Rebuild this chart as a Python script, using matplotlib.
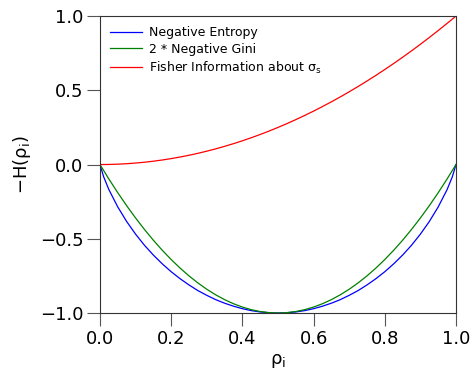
import numpy as np
import matplotlib
matplotlib.use("Agg")
import matplotlib.pyplot as plt

plt.rcParams['mathtext.default'] = 'regular'

# valeurs
p = [0.0, 0.025, 0.05, 0.075, 0.1, 0.125, 0.15, 0.175, 0.2, 0.225, 0.25,
     0.275, 0.3, 0.325, 0.35, 0.375, 0.4, 0.425, 0.45, 0.475, 0.5,
     0.525, 0.55, 0.575, 0.6, 0.625, 0.65, 0.675, 0.7, 0.725, 0.75,
     0.775, 0.8, 0.825, 0.85, 0.875, 0.9, 0.925, 0.95, 0.975, 1.0]

p_entropy = [0.0, 0.01] + p[1:-1] + [0.99, 1.0]
neg_entropy_half = [-0.169, -0.286, -0.384, -0.469, -0.544, -0.610, -0.669,
                    -0.722, -0.769, -0.811, -0.849, -0.881, -0.910, -0.934,
                    -0.954, -0.971, -0.984, -0.993, -0.998]
neg_entropy = [0.0, -0.081] + neg_entropy_half + [-1.0] + neg_entropy_half[::-1] + [-0.081, 0.0]

neg_gini_half = [0.0, -0.0975, -0.19, -0.2775, -0.36, -0.4375, -0.51, -0.5775,
                 -0.64, -0.6975, -0.75, -0.7975, -0.84, -0.8775, -0.91,
                 -0.9375, -0.96, -0.9775, -0.99, -0.9975]
neg_gini = neg_gini_half + [-1.0] + neg_gini_half[::-1]

fisher = [0.0, 0.0006, 0.0025, 0.0056, 0.01, 0.0156, 0.0225, 0.0306, 0.04,
          0.0506, 0.0625, 0.0756, 0.09, 0.1056, 0.1225, 0.1406, 0.16, 0.1806,
          0.2025, 0.2256, 0.25, 0.2756, 0.3025, 0.3306, 0.36, 0.3906, 0.4225,
          0.4556, 0.49, 0.5256, 0.5625, 0.6006, 0.64, 0.6806, 0.7225, 0.7656,
          0.81, 0.8556, 0.9025, 0.9506, 1.0]

fig = plt.figure(figsize=(4.73, 3.74), dpi=100)
ax = fig.add_axes([0.2114, 0.1631, 0.7526, 0.7939])

ax.plot(p_entropy, neg_entropy, color='blue', lw=0.9, label='Negative Entropy')
ax.plot(p, neg_gini, color='green', lw=0.9, label='2 * Negative Gini')
ax.plot(p, fisher, color='red', lw=0.9, label=r'Fisher Information about $\sigma_s$')

ax.set_xlim(0, 1)
ax.set_ylim(-1, 1)
ax.set_xticks([0.0, 0.2, 0.4, 0.6, 0.8, 1.0])
ax.set_yticks([-1.0, -0.5, 0.0, 0.5, 1.0])
ax.tick_params(direction='out', length=9.5, width=0.8, color='#555555',
               labelsize=13, pad=2.5)
for s in ax.spines.values():
    s.set_color('#333333')
    s.set_linewidth(0.8)

ax.set_xlabel(r'$\rho_i$', fontsize=13, labelpad=3)
ax.set_ylabel(r'$-H(\rho_i)$', fontsize=13, labelpad=5)

ax.legend(loc='upper left', frameon=False, fontsize=9, handlelength=2.6,
          borderaxespad=0.4, labelspacing=0.3, handletextpad=0.5)

fig.savefig('out.png', dpi=100)
